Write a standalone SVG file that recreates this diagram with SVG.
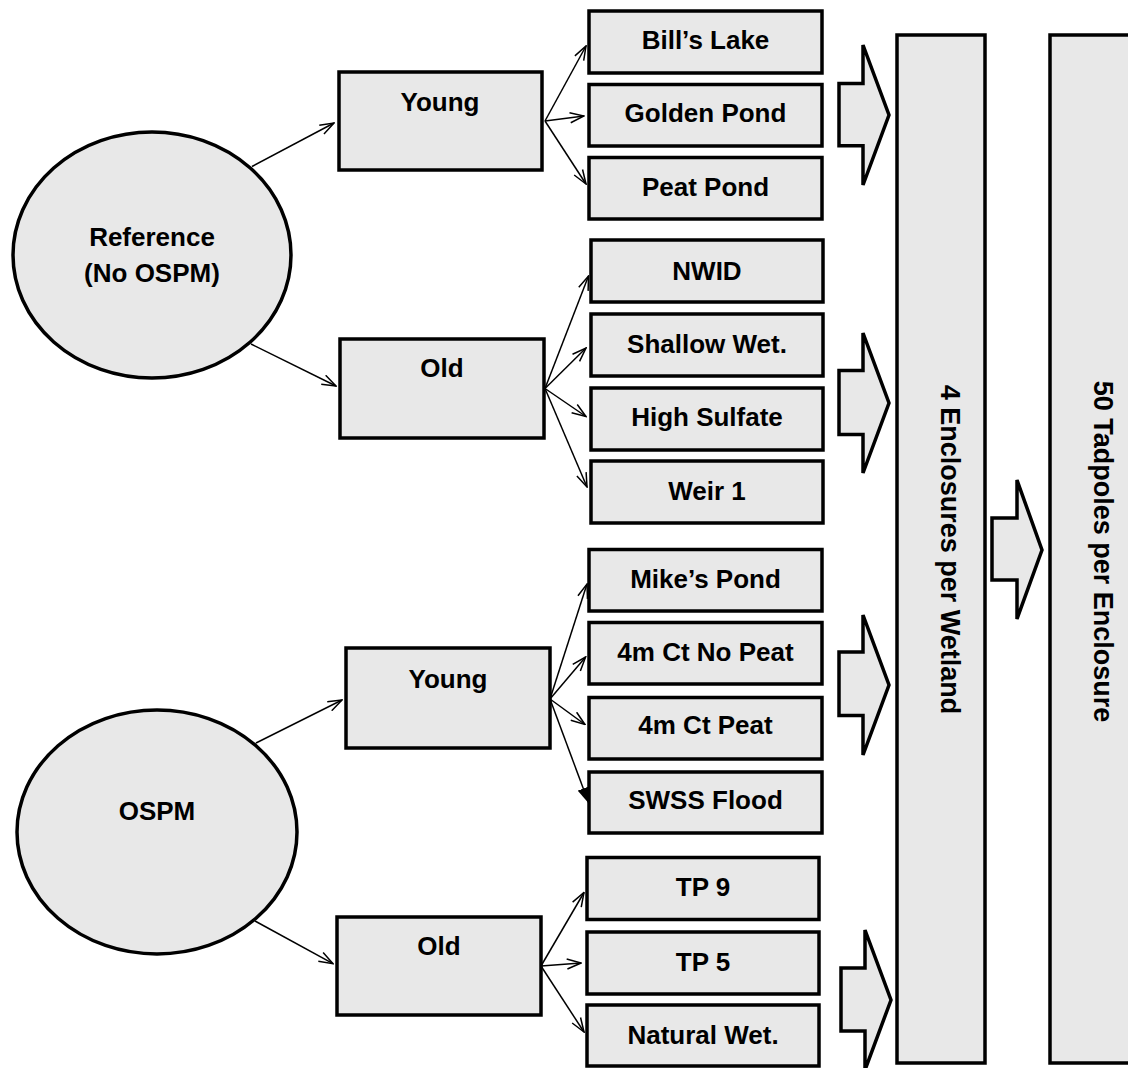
<svg xmlns="http://www.w3.org/2000/svg" width="1128" height="1068" viewBox="0 0 1128 1068">
<style>
.box{fill:#e8e8e8;stroke:#000;stroke-width:3.5}
.blk{fill:#e8e8e8;stroke:#000;stroke-width:3.5;stroke-linejoin:miter}
.lbl{font-family:"Liberation Sans",Arial,sans-serif;font-weight:bold;font-size:26px;fill:#000;text-anchor:middle}
.big{font-size:27px}
.con{stroke:#000;stroke-width:1.5;fill:none}
</style>
<defs>
<marker id="open" viewBox="0 0 16 12" refX="15" refY="6" markerWidth="16" markerHeight="12" markerUnits="userSpaceOnUse" orient="auto">
<path d="M1,1 L15,6 L1,11" fill="none" stroke="#000" stroke-width="1.5"/>
</marker>
<marker id="solid" viewBox="0 0 16 12" refX="15" refY="6" markerWidth="16" markerHeight="12" markerUnits="userSpaceOnUse" orient="auto">
<path d="M0,0 L16,6 L0,12 z" fill="#000"/>
</marker>
</defs>
<rect width="1128" height="1068" fill="#fff"/>

<g id="connectors">
<line class="con" x1="252" y1="166.5" x2="334" y2="123" marker-end="url(#open)"/>
<line class="con" x1="251" y1="344" x2="336" y2="386" marker-end="url(#open)"/>
<line class="con" x1="545" y1="121" x2="586" y2="46" marker-end="url(#open)"/>
<line class="con" x1="545" y1="121" x2="584" y2="116" marker-end="url(#open)"/>
<line class="con" x1="545" y1="121" x2="586" y2="184" marker-end="url(#open)"/>
<line class="con" x1="545" y1="388.5" x2="588.5" y2="276" marker-end="url(#open)"/>
<line class="con" x1="545" y1="388.5" x2="586" y2="348" marker-end="url(#open)"/>
<line class="con" x1="545" y1="388.5" x2="586" y2="416.5" marker-end="url(#open)"/>
<line class="con" x1="545" y1="388.5" x2="587" y2="487" marker-end="url(#open)"/>
<line class="con" x1="256" y1="743" x2="342" y2="700" marker-end="url(#open)"/>
<line class="con" x1="255" y1="921" x2="333" y2="963.7" marker-end="url(#open)"/>
<line class="con" x1="550" y1="699" x2="587" y2="584" marker-end="url(#open)"/>
<line class="con" x1="550" y1="699" x2="585.6" y2="657" marker-end="url(#open)"/>
<line class="con" x1="550" y1="699" x2="585" y2="724.5" marker-end="url(#open)"/>
<line class="con" x1="550" y1="699" x2="588.5" y2="802.6" marker-end="url(#solid)"/>
<line class="con" x1="541" y1="966" x2="584" y2="892.5" marker-end="url(#open)"/>
<line class="con" x1="541" y1="966" x2="581" y2="963" marker-end="url(#open)"/>
<line class="con" x1="541" y1="966" x2="584" y2="1032" marker-end="url(#open)"/>
</g>

<g id="block-arrows">
<polygon class="blk" points="839,83.5 863,83.5 863,45 889,115 863,185 863,145.7 839,145.7"/>
<polygon class="blk" points="839,370.5 863,370.5 863,333 889,403 863,473 863,434.5 839,434.5"/>
<polygon class="blk" points="839,652 863,652 863,615 889,685 863,755 863,715.5 839,715.5"/>
<polygon class="blk" points="841,968 865,968 865,930 891,1000 865,1070 865,1031 841,1031"/>
<polygon class="blk" points="992,518 1017,518 1017,480 1042,550 1017,619 1017,580 992,580"/>
</g>

<g id="ref">
<ellipse class="box" cx="152" cy="255" rx="139" ry="123"/>
<text class="lbl" x="152" y="246">Reference</text>
<text class="lbl" x="152" y="282">(No OSPM)</text>
</g>
<g id="ospm">
<ellipse class="box" cx="157" cy="832" rx="140" ry="122"/>
<text class="lbl" x="157" y="819.5">OSPM</text>
</g>

<g id="young1"><rect class="box" x="339" y="72" width="203" height="98"/><text class="lbl" x="440" y="111">Young</text></g>
<g id="old1"><rect class="box" x="340" y="339" width="204" height="99"/><text class="lbl" x="442" y="377">Old</text></g>
<g id="young2"><rect class="box" x="346" y="648" width="204" height="100"/><text class="lbl" x="448" y="687.5">Young</text></g>
<g id="old2"><rect class="box" x="337" y="917" width="204" height="98"/><text class="lbl" x="439" y="955">Old</text></g>

<g id="bills"><rect class="box" x="589" y="11" width="233" height="62"/><text class="lbl" x="705.5" y="48.5">Bill’s Lake</text></g>
<g id="golden"><rect class="box" x="589" y="84.5" width="233" height="61.5"/><text class="lbl" x="705.5" y="122">Golden Pond</text></g>
<g id="peat"><rect class="box" x="589" y="157.5" width="233" height="61.5"/><text class="lbl" x="705.5" y="196">Peat Pond</text></g>
<g id="nwid"><rect class="box" x="591" y="240" width="232" height="62"/><text class="lbl" x="707" y="280">NWID</text></g>
<g id="shallow"><rect class="box" x="591" y="314" width="232" height="62"/><text class="lbl" x="707" y="352.5">Shallow Wet.</text></g>
<g id="highsulfate"><rect class="box" x="591" y="388" width="232" height="62"/><text class="lbl" x="707" y="426">High Sulfate</text></g>
<g id="weir"><rect class="box" x="591" y="461" width="232" height="62"/><text class="lbl" x="707" y="500">Weir 1</text></g>
<g id="mikes"><rect class="box" x="589" y="549.5" width="233" height="61.5"/><text class="lbl" x="705.5" y="587.5">Mike’s Pond</text></g>
<g id="nopeat"><rect class="box" x="589" y="622.5" width="233" height="61.5"/><text class="lbl" x="705.5" y="660.5">4m Ct No Peat</text></g>
<g id="ctpeat"><rect class="box" x="589" y="697.5" width="233" height="61.5"/><text class="lbl" x="705.5" y="734">4m Ct Peat</text></g>
<g id="swss"><rect class="box" x="589" y="772" width="233" height="61"/><text class="lbl" x="705.5" y="809">SWSS Flood</text></g>
<g id="tp9"><rect class="box" x="587" y="857.5" width="232" height="62"/><text class="lbl" x="703" y="896">TP 9</text></g>
<g id="tp5"><rect class="box" x="587" y="932" width="232" height="62"/><text class="lbl" x="703" y="970.5">TP 5</text></g>
<g id="natural"><rect class="box" x="587" y="1005" width="232" height="61"/><text class="lbl" x="703" y="1043.5">Natural Wet.</text></g>

<g id="enclosures">
<rect class="box" x="897" y="35" width="88" height="1028"/>
<text class="lbl big" transform="translate(941,549.5) rotate(90)">4 Enclosures per Wetland</text>
</g>
<g id="tadpoles">
<rect class="box" x="1050" y="35" width="100" height="1028"/>
<text class="lbl big" transform="translate(1094,551.5) rotate(90)">50 Tadpoles per Enclosure</text>
</g>
</svg>
